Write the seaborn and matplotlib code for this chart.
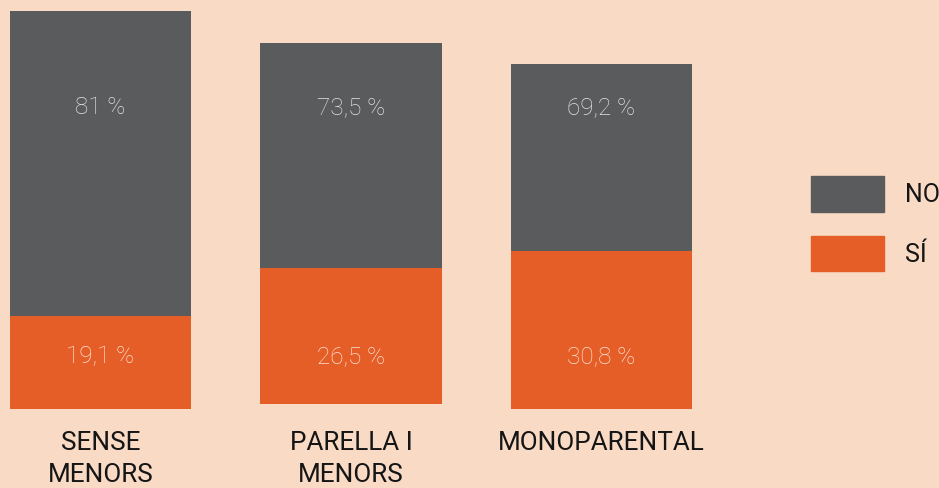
import matplotlib
matplotlib.use('Agg')
import matplotlib.pyplot as plt
import matplotlib.patches as mpatches
import seaborn as sns
import pandas as pd

# categories and values
categories = ['SENSE\nMENORS', 'PARELLA I\nMENORS', 'MONOPARENTAL']
si_height = [93, 136, 158]      # drawn height of the orange (SÍ) segment
no_height = [305, 225, 187]     # drawn height of the grey (NO) segment
base = [0, 5, 0]                # bars don't all start on the same line
si_labels = ['19,1 %', '26,5 %', '30,8 %']
no_labels = ['81 %', '73,5 %', '69,2 %']
series_names = ['NO', 'SÍ']

bg = '#F9DAC5'
grey = '#5A5B5D'
orange = '#E65E27'

sns.set_theme(style='white')
plt.rcParams['font.family'] = ['Roboto', 'DejaVu Sans']

df = pd.DataFrame({'cat': categories, 'si': si_height, 'no': no_height, 'base': base})
df['total'] = df['si'] + df['no']

fig = plt.figure(figsize=(9.39, 4.88), dpi=100, facecolor=bg)
ax = fig.add_axes([0, 79 / 488, 1, 409 / 488])
ax.set_facecolor(bg)

sns.barplot(data=df, x='cat', y='total', color=grey, width=0.7226,
            saturation=1, bottom=df['base'], ax=ax, linewidth=0)
sns.barplot(data=df, x='cat', y='si', color=orange, width=0.7226,
            saturation=1, bottom=df['base'], ax=ax, linewidth=0)

ax.set_xlim(-0.401, 3.347)
ax.set_ylim(0, 409)
ax.set_xlabel('')
ax.set_ylabel('')
ax.set_yticks([])
sns.despine(ax=ax, left=True, bottom=True)
ax.tick_params(axis='x', length=0, pad=16, labelsize=18.8, labelcolor='#151515')
for lbl in ax.get_xticklabels():
    lbl.set_linespacing(1.4)

for i in range(len(categories)):
    ax.text(i, 301, no_labels[i], ha='center', va='center', fontsize=17.5,
            fontweight='light', color='#E2E2E2')
    ax.text(i, 52, si_labels[i], ha='center', va='center', fontsize=17.5,
            fontweight='light', color='#FCE4D5')

handles = [mpatches.Patch(color=grey), mpatches.Patch(color=orange)]
leg = fig.legend(handles, series_names, loc='upper left',
                 bbox_to_anchor=(811 / 939, 1 - 176 / 488), frameon=False,
                 fontsize=18, handlelength=2.92, handleheight=1.83,
                 handletextpad=0.84, labelspacing=0.95, borderpad=0,
                 borderaxespad=0)
for t in leg.get_texts():
    t.set_color('#151515')

fig.savefig('out.png', dpi=100, facecolor=bg)
